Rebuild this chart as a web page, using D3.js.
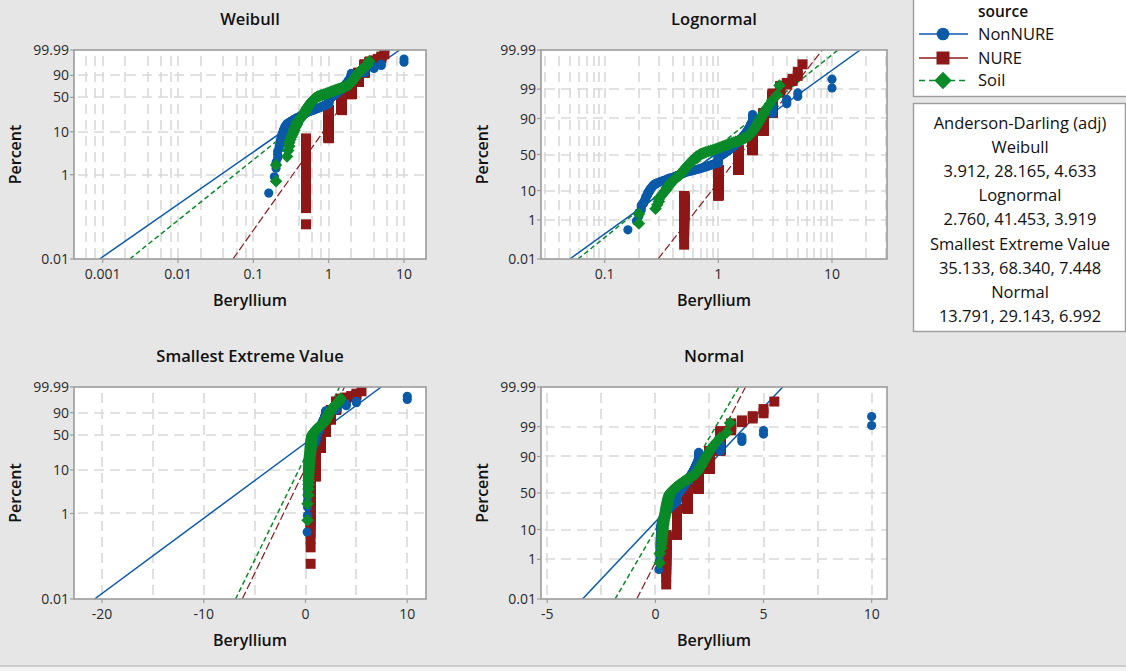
<!DOCTYPE html>
<html>
<head>
<meta charset="utf-8">
<script src="https://cdn.jsdelivr.net/npm/d3@7"></script>
<style>
  body { margin: 0; background: #e6e6e6; }
  svg { display: block; font-family: "Open Sans", "Noto Sans", sans-serif; }
</style>
</head>
<body>
<svg id="chart" width="1126" height="671"></svg>
<script>
// ---- Beryllium samples by source (distinct levels with their tie counts) ----
const groupNames = ["NonNURE", "NURE", "Soil"];
const groupColors = ["#0a5aa8", "#8e1818", "#0a8a28"];

const nonNureLevels = [
  0.16, 0.19, 0.20, 0.21, 0.22, 0.225, 0.23, 0.235, 0.24, 0.245, 0.25, 0.255, 0.26, 0.265, 0.27, 0.28, 0.29,
  0.30, 0.31, 0.32, 0.33, 0.34, 0.35, 0.36, 0.37, 0.38, 0.40,
  0.41, 0.42, 0.43, 0.44, 0.45, 0.47, 0.48, 0.49, 0.50, 0.51,
  0.53, 0.55, 0.57, 0.59, 0.61, 0.63, 0.65, 0.67, 0.69, 0.71,
  0.73, 0.75, 0.77, 0.79, 0.81, 0.83, 0.85, 0.87, 0.89, 0.91, 0.93, 0.96,
  1.00,
  1.05, 1.07, 1.08, 1.10, 1.12, 1.13, 1.15, 1.17, 1.18, 1.20, 1.22, 1.23, 1.25, 1.27, 1.28,
  1.30, 1.32, 1.33, 1.35, 1.37, 1.38, 1.40, 1.42, 1.43, 1.45, 1.47, 1.48, 1.50, 1.52, 1.53,
  1.55, 1.57, 1.58, 1.60, 1.62, 1.63, 1.65, 1.67, 1.68, 1.70, 1.72, 1.73, 1.75, 1.77, 1.78,
  1.80, 1.82, 1.83, 1.85, 1.87, 1.88, 1.90, 1.92, 1.93, 1.95, 1.97,
  2, 3, 4, 5, 10
];
const nonNureCounts = [
  1, 1, 2, 3, 2, 1, 3, 1, 3, 1, 3, 1, 2, 1, 2, 2, 1,
  1, 1, 1, 1, 1, 1, 1, 1, 1, 1,
  1, 1, 1, 1, 1, 1, 1, 1, 1, 1,
  1, 1, 1, 1, 1, 1, 1, 1, 1, 1,
  1, 1, 1, 1, 1, 1, 1, 1, 1, 1, 1, 1,
  19,
  2, 1, 1, 2, 1, 1, 2, 1, 1, 2, 1, 1, 2, 1, 1,
  2, 1, 1, 2, 1, 1, 2, 1, 1, 2, 1, 1, 2, 1, 1,
  2, 1, 1, 2, 1, 1, 2, 1, 1, 2, 1, 1, 2, 1, 1,
  2, 1, 1, 2, 1, 1, 2, 1, 1, 2, 1,
  10, 7, 3, 2, 2
];

const nureLevels = [0.5, 1, 1.5, 2, 2.5, 3, 3.5, 4, 4.5, 5, 5.5];
const nureCounts = [74, 231, 283, 252, 137, 58, 8, 2, 2, 2, 1];

const soilValues = [
  0.20, 0.20, 0.28, 0.29, 0.30, 0.30, 0.31, 0.32, 0.33, 0.34,
  0.35, 0.35, 0.36, 0.37, 0.38, 0.38, 0.39, 0.40, 0.41, 0.42,
  0.43, 0.44, 0.45, 0.46, 0.47, 0.48, 0.48, 0.49, 0.50, 0.50,
  0.51, 0.52, 0.52, 0.53, 0.54, 0.55, 0.55, 0.56, 0.57, 0.58,
  0.58, 0.59, 0.60, 0.61, 0.62, 0.63, 0.64, 0.65, 0.67, 0.69,
  0.70, 0.72, 0.75, 0.78, 0.82, 0.86, 0.90, 0.94, 0.98, 1.02,
  1.06, 1.10, 1.15, 1.20, 1.25, 1.30, 1.36, 1.42, 1.48, 1.54,
  1.60, 1.66, 1.72, 1.78, 1.84, 1.88, 1.91, 1.94, 1.97, 2.00,
  2.03, 2.06, 2.09, 2.12, 2.15, 2.18, 2.21, 2.25, 2.29, 2.33,
  2.37, 2.42, 2.47, 2.53, 2.60, 2.70, 2.82, 2.98, 3.30, 3.45
];

// ---- Fitted distribution parameters (NonNURE, NURE, Soil) ----
const weibullShape = [1.246, 2.52, 1.435];
const weibullScale = [1.476, 2.07, 1.40];
const lognormalLoc = [-0.068, 0.442, -0.211];
const lognormalScale = [0.791, 0.4476, 0.708];
const sevLoc = [1.97, 1.88, 1.355];
const sevScale = [2.465, 0.879, 0.894];
const normalMean = [1.26, 1.65, 1.00];
const normalSd = [1.245, 0.676, 0.77];

// ---- Axis ticks ----
const percentTicksExtreme = [0.01, 1, 10, 50, 90, 99.99];
const percentTicksNormal = [0.01, 1, 10, 50, 90, 99, 99.99];
const weibullXTicks = [0.001, 0.01, 0.1, 1, 10];
const lognormalXTicks = [0.1, 1, 10];
const sevXTicks = [-20, -10, 0, 10];
const normalXTicks = [-5, 0, 5, 10];

// ---- Goodness-of-fit summary ----
const adTitle = "Anderson-Darling (adj)";
const adDistributions = ["Weibull", "Lognormal", "Smallest Extreme Value", "Normal"];
const adValues = ["3.912, 28.165, 4.633", "2.760, 41.453, 3.919", "35.133, 68.340, 7.448", "13.791, 29.143, 6.992"];

// Inverse standard normal CDF (Acklam's rational approximation)
function probit(p) {
  const a = [-3.969683028665376e+01, 2.209460984245205e+02, -2.759285104469687e+02, 1.383577518672690e+02, -3.066479806614716e+01, 2.506628277459239e+00];
  const b = [-5.447609879822406e+01, 1.615858368580409e+02, -1.556989798598866e+02, 6.680131188771972e+01, -1.328068155288572e+01];
  const c = [-7.784894002430293e-03, -3.223964580411365e-01, -2.400758277161838e+00, -2.549671664286971e+00, 4.374664141464968e+00, 2.938163982698783e+00];
  const d = [7.784695709041462e-03, 3.224671290700398e-01, 2.445134137142996e+00, 3.754408364765400e+00];
  const pl = 0.02425;
  let q, r;
  if (p < pl) {
    q = Math.sqrt(-2 * Math.log(p));
    return (((((c[0]*q+c[1])*q+c[2])*q+c[3])*q+c[4])*q+c[5]) / ((((d[0]*q+d[1])*q+d[2])*q+d[3])*q+1);
  }
  if (p <= 1 - pl) {
    q = p - 0.5; r = q * q;
    return (((((a[0]*r+a[1])*r+a[2])*r+a[3])*r+a[4])*r+a[5])*q / (((((b[0]*r+b[1])*r+b[2])*r+b[3])*r+b[4])*r+1);
  }
  q = Math.sqrt(-2 * Math.log(1 - p));
  return -(((((c[0]*q+c[1])*q+c[2])*q+c[3])*q+c[4])*q+c[5]) / ((((d[0]*q+d[1])*q+d[2])*q+d[3])*q+1);
}
const gumbelT = p => Math.log(-Math.log(1 - p));

function expand(levels, counts) {
  const out = [];
  levels.forEach((v, i) => { for (let k = 0; k < counts[i]; k++) out.push(v); });
  return out;
}
const samples = [expand(nonNureLevels, nonNureCounts), expand(nureLevels, nureCounts), soilValues.slice()];
samples.forEach(s => s.sort((a, b) => a - b));

// Probability-paper definitions: transform of cumulative probability and fitted-line inverse
const panels = [
  { title: "Weibull", box: [74, 50, 426, 259], log: true, xDomain: [Math.pow(10, -3.381), Math.pow(10, 1.292)],
    xTicks: weibullXTicks, xLabels: ["0.001", "0.01", "0.1", "1", "10"], mult: [1, 2, 4, 6, 8],
    pT: gumbelT, yTicks: percentTicksExtreme,
    inv: (t, g) => weibullScale[g] * Math.exp(t / weibullShape[g]) },
  { title: "Lognormal", box: [541, 50, 887, 259], log: true, xDomain: [Math.pow(10, -1.5605), Math.pow(10, 1.484)],
    xTicks: lognormalXTicks, xLabels: ["0.1", "1", "10"], mult: [1, 2, 3, 4, 5, 6, 7, 8, 9],
    pT: probit, yTicks: percentTicksNormal,
    inv: (t, g) => Math.exp(lognormalLoc[g] + lognormalScale[g] * t) },
  { title: "Smallest Extreme Value", box: [74, 387, 426, 599], log: false, xDomain: [-22.75, 11.84],
    xTicks: sevXTicks, xLabels: ["-20", "-10", "0", "10"], gridStep: 5,
    pT: gumbelT, yTicks: percentTicksExtreme,
    inv: (t, g) => sevLoc[g] + sevScale[g] * t },
  { title: "Normal", box: [541, 387, 887, 599], log: false, xDomain: [-5.29, 10.71],
    xTicks: normalXTicks, xLabels: ["-5", "0", "5", "10"], gridStep: 2.5,
    pT: probit, yTicks: percentTicksNormal,
    inv: (t, g) => normalMean[g] + normalSd[g] * t }
];

const svg = d3.select("#chart");
svg.append("rect").attr("width", 1126).attr("height", 671).attr("fill", "#e6e6e6");
svg.append("rect").attr("x", 0).attr("y", 665).attr("width", 1126).attr("height", 2).attr("fill", "#cdcdcd");
svg.append("rect").attr("x", 0).attr("y", 667).attr("width", 1126).attr("height", 4).attr("fill", "#f2f2f2");
const defs = svg.append("defs");

const gridColor = "#d9d9d9";
const lineStyles = [
  { dash: null, width: 1.5 },
  { dash: "8,3", width: 1.2 },
  { dash: "5,3", width: 1.5 }
];
// NURE underneath, then NonNURE, Soil on top
const drawOrder = [1, 0, 2];

function markerPath(g, big) {
  if (g === 0) return d3.symbol(d3.symbolCircle, big ? 125 : 66)();
  if (g === 1) return d3.symbol(d3.symbolSquare, big ? 169 : 100)();
  return d3.symbol(d3.symbolSquare, big ? 150 : 79)();
}

panels.forEach((pan, pi) => {
  const [x0, y0, x1, y1] = pan.box;
  const x = (pan.log ? d3.scaleLog() : d3.scaleLinear()).domain(pan.xDomain).range([x0, x1]);
  const tMin = pan.pT(0.0001), tMax = pan.pT(0.9999);
  const y = d3.scaleLinear().domain([tMin, tMax]).range([y1, y0]);
  const g = svg.append("g");

  defs.append("clipPath").attr("id", "clip" + pi)
    .append("rect").attr("x", x0).attr("y", y0).attr("width", x1 - x0).attr("height", y1 - y0);

  g.append("rect").attr("x", x0).attr("y", y0).attr("width", x1 - x0).attr("height", y1 - y0).attr("fill", "#fff");

  // vertical grid
  let gridX = [];
  if (pan.log) {
    const e0 = Math.floor(Math.log10(pan.xDomain[0])), e1 = Math.ceil(Math.log10(pan.xDomain[1]));
    for (let e = e0; e <= e1; e++) pan.mult.forEach(m => {
      const v = m * Math.pow(10, e);
      if (v > pan.xDomain[0] && v < pan.xDomain[1]) gridX.push(v);
    });
  } else {
    for (let v = Math.ceil(pan.xDomain[0] / pan.gridStep) * pan.gridStep; v < pan.xDomain[1]; v += pan.gridStep) gridX.push(v);
  }
  const grid = g.append("g").attr("clip-path", `url(#clip${pi})`)
    .attr("stroke", gridColor).attr("stroke-width", 1.6).attr("stroke-dasharray", "10,6").attr("fill", "none");
  grid.selectAll("line.vx").data(gridX).join("line").attr("class", "vx")
    .attr("x1", d => Math.round(x(d))).attr("x2", d => Math.round(x(d)))
    .attr("y1", y0 + 6).attr("y2", y1);
  const gridY = pan.yTicks.filter(p => p > 0.01 && p < 99.99);
  grid.selectAll("line.hy").data(gridY).join("line").attr("class", "hy")
    .attr("x1", x0 + 4).attr("x2", x1)
    .attr("y1", d => Math.round(y(pan.pT(d / 100)))).attr("y2", d => Math.round(y(pan.pT(d / 100))));

  // fitted lines and plotted points (median-rank plotting positions)
  const plot = g.append("g").attr("clip-path", `url(#clip${pi})`);
  drawOrder.forEach(gi => {
    const vA = pan.inv(tMin, gi), vB = pan.inv(tMax, gi);
    const ln = plot.append("line")
      .attr("x1", x(vA)).attr("y1", y(tMin)).attr("x2", x(vB)).attr("y2", y(tMax))
      .attr("stroke", groupColors[gi]).attr("stroke-width", lineStyles[gi].width);
    if (lineStyles[gi].dash) ln.attr("stroke-dasharray", lineStyles[gi].dash);
  });
  drawOrder.forEach(gi => {
    const s = samples[gi], n = s.length;
    const pts = s.map((v, i) => ({ v, p: (i + 1 - 0.3) / (n + 0.4) }));
    plot.append("g").selectAll("path").data(pts).join("path")
      .attr("d", markerPath(gi, false))
      .attr("fill", groupColors[gi])
      .attr("transform", d => `translate(${x(d.v)},${y(pan.pT(d.p))})` + (gi === 2 ? " rotate(45)" : ""));
  });

  // frame
  g.append("rect").attr("x", x0).attr("y", y0).attr("width", x1 - x0).attr("height", y1 - y0)
    .attr("fill", "none").attr("stroke", "#9c9c9c").attr("stroke-width", 1.6);

  // tick marks and labels
  const tickCol = "#9c9c9c";
  pan.yTicks.forEach(p => {
    const yy = y(pan.pT(p / 100));
    g.append("line").attr("x1", x0 - 4).attr("x2", x0).attr("y1", yy).attr("y2", yy).attr("stroke", tickCol).attr("stroke-width", 1.2);
    g.append("text").attr("x", x0 - 5).attr("y", yy).attr("dy", "0.36em").attr("text-anchor", "end")
      .attr("font-size", 14).attr("fill", "#2a2a2a").text(String(p));
  });
  pan.xTicks.forEach((v, i) => {
    const xx = x(v);
    g.append("line").attr("x1", xx).attr("x2", xx).attr("y1", y1).attr("y2", y1 + 4).attr("stroke", tickCol).attr("stroke-width", 1.2);
    g.append("text").attr("x", xx).attr("y", y1 + 20).attr("text-anchor", "middle")
      .attr("font-size", 14).attr("fill", "#2a2a2a").text(pan.xLabels[i]);
  });

  const cx = (x0 + x1) / 2, cy = (y0 + y1) / 2;
  g.append("text").attr("x", cx).attr("y", y0 - 25).attr("text-anchor", "middle")
    .attr("font-size", 16.5).attr("font-weight", 600).attr("fill", "#111").text(pan.title);
  g.append("text").attr("x", cx).attr("y", y1 + 46.5).attr("text-anchor", "middle")
    .attr("font-size", 16).attr("font-weight", 600).attr("fill", "#111").text("Beryllium");
  g.append("text").attr("transform", `translate(${x0 - 53},${cy}) rotate(-90)`).attr("text-anchor", "middle")
    .attr("font-size", 16).attr("font-weight", 600).attr("fill", "#111").text("Percent");
});

// ---- Legend ----
const leg = svg.append("g");
leg.append("rect").attr("x", 913.5).attr("y", -6).attr("width", 230).attr("height", 102.5)
  .attr("fill", "#fff").attr("stroke", "#9c9c9c").attr("stroke-width", 1.4);
leg.append("text").attr("x", 1003).attr("y", 17).attr("text-anchor", "middle")
  .attr("font-size", 15.5).attr("font-weight", 600).attr("fill", "#111").text("source");
const legY = [34, 58, 80.5];
groupNames.forEach((name, gi) => {
  const yy = legY[gi];
  const ln = leg.append("line").attr("x1", 919).attr("x2", 968).attr("y1", yy).attr("y2", yy)
    .attr("stroke", groupColors[gi]).attr("stroke-width", 1.6);
  if (gi === 2) ln.attr("stroke-dasharray", "6,4");
  leg.append("path").attr("d", markerPath(gi, true)).attr("fill", groupColors[gi])
    .attr("transform", `translate(943,${yy})` + (gi === 2 ? " rotate(45)" : ""));
  leg.append("text").attr("x", 978).attr("y", yy + 5.5).attr("font-size", 16.5).attr("fill", "#111").text(name);
});

// ---- Anderson-Darling box ----
const ad = svg.append("g");
ad.append("rect").attr("x", 913.5).attr("y", 103.5).attr("width", 212).attr("height", 228)
  .attr("fill", "#fff").attr("stroke", "#9c9c9c").attr("stroke-width", 1.4);
const adLines = [adTitle];
adDistributions.forEach((d, i) => { adLines.push(d); adLines.push(adValues[i]); });
ad.selectAll("text").data(adLines).join("text")
  .attr("x", 1020).attr("y", (d, i) => 128.5 + i * 24.2).attr("text-anchor", "middle")
  .attr("font-size", 16.5).attr("fill", "#111").text(d => d);
</script>
</body>
</html>
